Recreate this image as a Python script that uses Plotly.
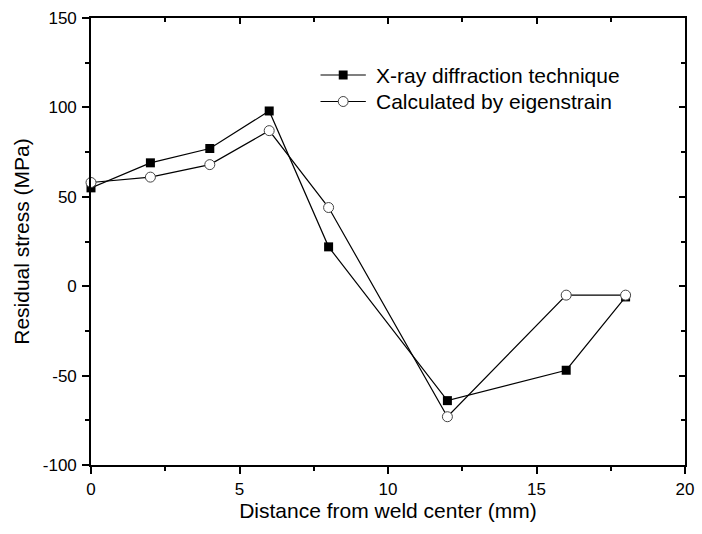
import plotly.graph_objects as go

x_vals = [0, 2, 4, 6, 8, 12, 16, 18]
xray = [55, 69, 77, 98, 22, -64, -47, -6]
eigen = [58, 61, 68, 87, 44, -73, -5, -5]
series_names = ["X-ray diffraction technique", "Calculated by eigenstrain"]
x_ticks = [0, 5, 10, 15, 20]
y_ticks = [-100, -50, 0, 50, 100, 150]
y_ticktext = ["-100", "-50", "0", "50", "100", "150"]

FONT = "Liberation Sans, Arial, sans-serif"

# plot area in pixels
L, R, T, B = 91, 694, 18, 465
W, H = 702, 534


def px_x(p):
    return (p - L) / (R - L)


def px_y(p):
    return (B - p) / (B - T)


fig = go.Figure()
fig.add_trace(go.Scatter(
    x=x_vals, y=xray, mode="lines+markers", name=series_names[0],
    line=dict(color="black", width=1.2),
    marker=dict(symbol="square", size=9, color="black", line=dict(color="black", width=0)),
    cliponaxis=False, showlegend=False))
fig.add_trace(go.Scatter(
    x=x_vals, y=eigen, mode="lines+markers", name=series_names[1],
    line=dict(color="black", width=1.2),
    marker=dict(symbol="circle", size=10, color="white", line=dict(color="#444", width=1)),
    cliponaxis=False, showlegend=False))
# invisible trace on mirrored axes so they render
fig.add_trace(go.Scatter(x=[0], y=[0], xaxis="x2", yaxis="y2", mode="markers",
                         marker=dict(opacity=0), showlegend=False, hoverinfo="skip"))

# manual legend (line + marker + text)
shapes = []
annotations = []
legend_rows = [75, 101.5]
for i, (name, row) in enumerate(zip(series_names, legend_rows)):
    shapes.append(dict(type="line", xref="paper", yref="paper",
                       x0=px_x(324), x1=px_x(370), y0=px_y(row), y1=px_y(row),
                       line=dict(color="black", width=1.2)))
    if i == 0:
        shapes.append(dict(type="rect", xref="paper", yref="paper",
                           x0=px_x(347 - 4.5), x1=px_x(347 + 4.5),
                           y0=px_y(row + 4.5), y1=px_y(row - 4.5),
                           fillcolor="black", line=dict(width=0)))
    else:
        shapes.append(dict(type="circle", xref="paper", yref="paper",
                           x0=px_x(347 - 5), x1=px_x(347 + 5),
                           y0=px_y(row + 5), y1=px_y(row - 5),
                           fillcolor="white", line=dict(color="#444", width=1)))
    annotations.append(dict(text=name, xref="paper", yref="paper",
                            x=px_x(378), y=px_y(row), xanchor="left", yanchor="middle",
                            showarrow=False, font=dict(size=21, family=FONT, color="black")))

axis_common = dict(showgrid=False, zeroline=False, linecolor="black", linewidth=1.6,
                   tickcolor="black", tickwidth=1.5)

fig.update_layout(
    width=W, height=H,
    margin=dict(l=L, r=W - R, t=T, b=H - B),
    paper_bgcolor="white", plot_bgcolor="white",
    font=dict(family=FONT, color="black"),
    showlegend=False,
    shapes=shapes,
    annotations=annotations,
    xaxis=dict(range=[0, 20], tickmode="array", tickvals=x_ticks, ticks="outside", ticklen=7,
               showline=True, mirror=True, ticklabelstandoff=1,
               minor=dict(dtick=2.5, tick0=0, ticks="outside", ticklen=4, tickcolor="black", tickwidth=1.5),
               tickfont=dict(size=17), title=dict(text="Distance from weld center (mm)",
                                                  font=dict(size=21), standoff=0),
               **axis_common),
    yaxis=dict(range=[-100, 150], tickmode="array", tickvals=y_ticks, ticktext=y_ticktext,
               ticks="outside", ticklen=7, ticklabelstandoff=2,
               showline=True, mirror=True,
               minor=dict(dtick=25, tick0=-100, ticks="outside", ticklen=4, tickcolor="black", tickwidth=1.5),
               tickfont=dict(size=17), title=dict(text="Residual stress (MPa)",
                                                  font=dict(size=21), standoff=7),
               **axis_common),
    xaxis2=dict(range=[0, 20], overlaying="x", side="top", anchor="y", tickmode="array", tickvals=x_ticks,
                ticks="inside", ticklen=6, showticklabels=False, showline=False,
                minor=dict(dtick=2.5, tick0=0, ticks="inside", ticklen=4, tickcolor="black", tickwidth=1.5),
                showgrid=False, zeroline=False, tickcolor="black", tickwidth=1.5),
    yaxis2=dict(range=[-100, 150], overlaying="y", side="right", anchor="x", tickmode="array",
                tickvals=y_ticks, ticks="inside", ticklen=6, showticklabels=False, showline=False,
                minor=dict(dtick=25, tick0=-100, ticks="inside", ticklen=4, tickcolor="black", tickwidth=1.5),
                showgrid=False, zeroline=False, tickcolor="black", tickwidth=1.5),
)

fig.write_html("out.html", config={"displayModeBar": False},
               post_script="document.body.style.margin='0';document.body.style.overflow='hidden';")
